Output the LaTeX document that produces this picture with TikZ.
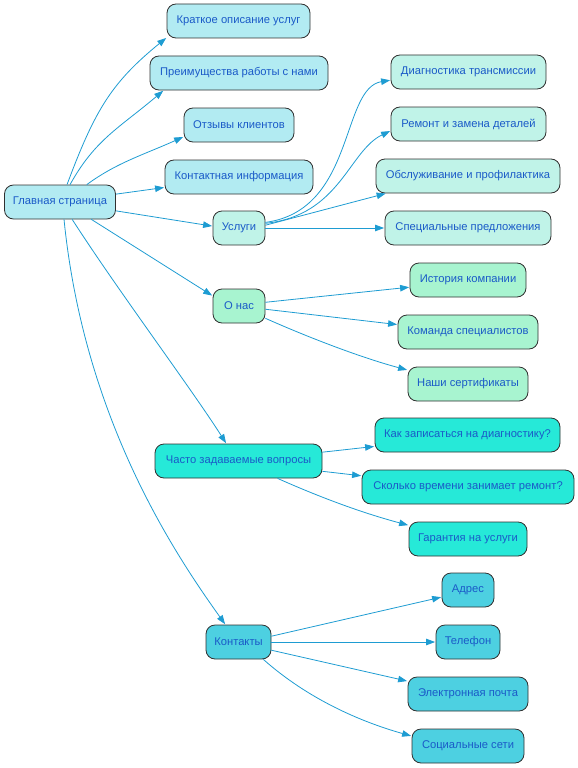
\documentclass[tikz,border=0pt]{standalone}
\usepackage{fontspec}
\setmainfont{Liberation Sans}
\usetikzlibrary{arrows.meta}
\definecolor{cMain}{HTML}{B2EBF2}
\definecolor{cUs}{HTML}{C0F3E8}
\definecolor{cOn}{HTML}{A8F4D0}
\definecolor{cFaq}{HTML}{26E9D8}
\definecolor{cKt}{HTML}{4DD0E1}
\definecolor{cTxt}{HTML}{1A5AC8}
\definecolor{cEdge}{HTML}{1E9CD2}
\definecolor{cBord}{HTML}{303030}
\tikzset{
  box/.style={draw=cBord, line width=0.8pt, rounded corners=9pt, minimum height=34pt,
    inner sep=0pt, text=cTxt, font=\fontsize{11.2}{13}\selectfont},
  mainbox/.style={box, fill=cMain},
  usbox/.style={box, fill=cUs},
  onbox/.style={box, fill=cOn},
  faqbox/.style={box, fill=cFaq},
  ktbox/.style={box, fill=cKt},
  link/.style={draw=cEdge, line width=0.8pt, -{Triangle[length=9pt,width=6.5pt]}, shorten >=0.5pt}
}
\begin{document}
\begin{tikzpicture}[x=1pt,y=1pt]
\useasboundingbox (0,0) rectangle (578,-768);
% main group
\node[mainbox, minimum width=111pt] (main) at (60,-202) {Главная страница};
\node[mainbox, minimum width=143pt] (kr) at (238.5,-21) {Краткое описание услуг};
\node[mainbox, minimum width=178pt] (pr) at (239,-73) {Преимущества работы с нами};
\node[mainbox, minimum width=110pt] (ot) at (239,-125) {Отзывы клиентов};
\node[mainbox, minimum width=148pt] (ki) at (239,-177) {Контактная информация};
% services
\node[usbox, minimum width=52pt] (us) at (239,-228) {Услуги};
\node[usbox, minimum width=155pt] (di) at (468.5,-72) {Диагностика трансмиссии};
\node[usbox, minimum width=155pt] (re) at (468.5,-124) {Ремонт и замена деталей};
\node[usbox, minimum width=184pt] (ob) at (468,-176) {Обслуживание и профилактика};
\node[usbox, minimum width=166pt] (sp) at (468,-228) {Специальные предложения};
% about
\node[onbox, minimum width=52pt] (on) at (239,-306) {О нас};
\node[onbox, minimum width=116pt] (is) at (468,-280) {История компании};
\node[onbox, minimum width=140pt] (ko) at (468,-332) {Команда специалистов};
\node[onbox, minimum width=120pt] (na) at (468,-384) {Наши сертификаты};
% faq
\node[faqbox, minimum width=167pt] (faq) at (238.5,-461) {Часто задаваемые вопросы};
\node[faqbox, minimum width=185pt] (kak) at (467.5,-435) {Как записаться на диагностику?};
\node[faqbox, minimum width=212pt] (sk) at (468,-487) {Сколько времени занимает ремонт?};
\node[faqbox, minimum width=118pt] (ga) at (468,-539) {Гарантия на услуги};
% contacts
\node[ktbox, minimum width=65pt] (kt) at (238.5,-642) {Контакты};
\node[ktbox, minimum width=52pt] (ad) at (468,-590) {Адрес};
\node[ktbox, minimum width=64pt] (te) at (468,-642) {Телефон};
\node[ktbox, minimum width=120pt] (el) at (468,-694) {Электронная почта};
\node[ktbox, minimum width=112pt] (so) at (468,-746) {Социальные сети};
% edges from main
\draw[link] (main.68) .. controls +(28,75) and +(-55,-45) .. (kr.193);
\draw[link] (main.60) .. controls +(25,45) and +(-45,-38) .. (pr.193);
\draw[link] (main.33) .. controls +(30,22) and +(-40,-18) .. (ot.192);
\draw[link] (main.8) -- (ki.188);
\draw[link] (main.-9) -- (us.176);
\draw[link] (main.-29) -- (on.159);
\draw[link] (main.-55) .. controls +(45,-70) and +(-35,55) .. (faq.125);
\draw[link] (main.-77) .. controls +(20,-200) and +(-50,70) .. (kt.127);
% services edges
\draw[link] (us.12) .. controls +(90,12) and +(-50,-8) .. (di.186);
\draw[link] (us.10) .. controls +(75,8) and +(-42,-20) .. (re.185);
\draw[link] (us.6) -- (ob.192);
\draw[link] (us.0) -- (sp.180);
% about edges
\draw[link] (on.8) -- (is.187);
\draw[link] (on.-7) -- (ko.174);
\draw[link] (on.-25) .. controls +(45,-20) and +(-45,12) .. (na.167);
% faq edges
\draw[link] (faq.6) -- (kak.187);
\draw[link] (faq.-7) -- (sk.174);
\draw[link] (faq.-24) .. controls +(45,-20) and +(-45,12) .. (ga.167);
% contact edges
\draw[link] (kt.10) -- (ad.195);
\draw[link] (kt.0) -- (te.180);
\draw[link] (kt.-14) -- (el.168);
\draw[link] (kt.-35) .. controls +(45,-40) and +(-50,14) .. (so.170);
\end{tikzpicture}
\end{document}
